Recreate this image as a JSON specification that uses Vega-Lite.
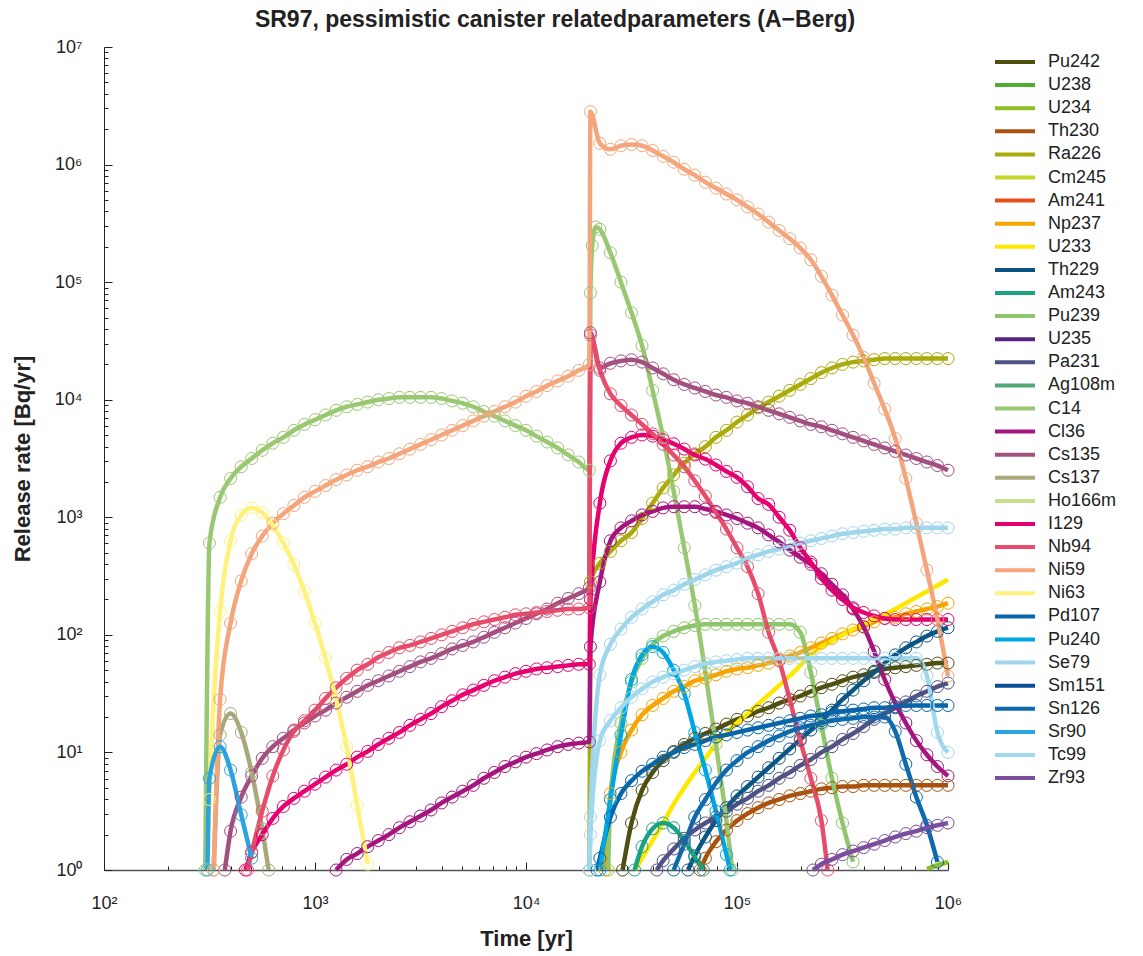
{
"$schema":"https://vega.github.io/schema/vega-lite/v6.json",
"width":844,"height":823,
"autosize":{"type":"none"},
"padding":{"left":104,"top":47,"right":195,"bottom":86},
"background":"white",
"config":{"font":"Liberation Sans","view":{"stroke":null},"axis":{"grid":false}},
"title":{"text":"SR97, pessimistic canister relatedparameters (A\u2212Berg)","fontSize":23,"fontWeight":"bold","color":"#222","anchor":"middle","dx":29,"offset":6,"font":"Liberation Sans"},
"data":{"values":[
{"n":"Pu242","t":28700,"r":1},{"n":"Pu242","t":31623,"r":2.51},{"n":"Pu242","t":35481,"r":4.79},{"n":"Pu242","t":39811,"r":6.76},{"n":"Pu242","t":44668,"r":8.51},{"n":"Pu242","t":50119,"r":10.2},{"n":"Pu242","t":56234,"r":11.7},{"n":"Pu242","t":63096,"r":13.2},{"n":"Pu242","t":70795,"r":14.5},{"n":"Pu242","t":79433,"r":15.8},{"n":"Pu242","t":89125,"r":17.4},{"n":"Pu242","t":100000,"r":19.1},{"n":"Pu242","t":112202,"r":20.4},{"n":"Pu242","t":125893,"r":22.4},{"n":"Pu242","t":141254,"r":24},{"n":"Pu242","t":158489,"r":26.3},{"n":"Pu242","t":177828,"r":28.2},{"n":"Pu242","t":199526,"r":30.2},{"n":"Pu242","t":223872,"r":33.1},{"n":"Pu242","t":251189,"r":35.5},{"n":"Pu242","t":281838,"r":38},{"n":"Pu242","t":316228,"r":40.7},{"n":"Pu242","t":354813,"r":43.7},{"n":"Pu242","t":398107,"r":45.7},{"n":"Pu242","t":446684,"r":49},{"n":"Pu242","t":501187,"r":51.3},{"n":"Pu242","t":562341,"r":52.5},{"n":"Pu242","t":630957,"r":53.7},{"n":"Pu242","t":707946,"r":55},{"n":"Pu242","t":794328,"r":56.2},{"n":"Pu242","t":891251,"r":57.5},{"n":"Pu242","t":1000000,"r":57.5},
{"n":"U234","t":794328,"r":1.02},{"n":"U234","t":891251,"r":1.1},{"n":"U234","t":1000000,"r":1.17},
{"n":"Th230","t":66900,"r":1},{"n":"Th230","t":70795,"r":1.26},{"n":"Th230","t":79433,"r":1.74},{"n":"Th230","t":89125,"r":2.19},{"n":"Th230","t":100000,"r":2.63},{"n":"Th230","t":112202,"r":3.02},{"n":"Th230","t":125893,"r":3.39},{"n":"Th230","t":141254,"r":3.72},{"n":"Th230","t":158489,"r":3.98},{"n":"Th230","t":177828,"r":4.27},{"n":"Th230","t":199526,"r":4.47},{"n":"Th230","t":223872,"r":4.68},{"n":"Th230","t":251189,"r":4.9},{"n":"Th230","t":281838,"r":5.01},{"n":"Th230","t":316228,"r":5.13},{"n":"Th230","t":354813,"r":5.13},{"n":"Th230","t":398107,"r":5.25},{"n":"Th230","t":446684,"r":5.25},{"n":"Th230","t":501187,"r":5.25},{"n":"Th230","t":562341,"r":5.25},{"n":"Th230","t":630957,"r":5.25},{"n":"Th230","t":707946,"r":5.25},{"n":"Th230","t":794328,"r":5.25},{"n":"Th230","t":891251,"r":5.25},{"n":"Th230","t":1000000,"r":5.25},
{"n":"Ra226","t":20000,"r":1},{"n":"Ra226","t":20200,"r":282},{"n":"Ra226","t":22387,"r":407},{"n":"Ra226","t":25119,"r":513},{"n":"Ra226","t":28184,"r":631},{"n":"Ra226","t":31623,"r":741},{"n":"Ra226","t":35481,"r":977},{"n":"Ra226","t":39811,"r":1318},{"n":"Ra226","t":44668,"r":1778},{"n":"Ra226","t":50119,"r":2291},{"n":"Ra226","t":56234,"r":2884},{"n":"Ra226","t":63096,"r":3467},{"n":"Ra226","t":70795,"r":3981},{"n":"Ra226","t":79433,"r":4786},{"n":"Ra226","t":89125,"r":5495},{"n":"Ra226","t":100000,"r":6457},{"n":"Ra226","t":112202,"r":7413},{"n":"Ra226","t":125893,"r":8511},{"n":"Ra226","t":141254,"r":9550},{"n":"Ra226","t":158489,"r":10720},{"n":"Ra226","t":177828,"r":12020},{"n":"Ra226","t":199526,"r":13490},{"n":"Ra226","t":223872,"r":15140},{"n":"Ra226","t":251189,"r":16980},{"n":"Ra226","t":281838,"r":18620},{"n":"Ra226","t":316228,"r":19950},{"n":"Ra226","t":354813,"r":20890},{"n":"Ra226","t":398107,"r":21380},{"n":"Ra226","t":446684,"r":21880},{"n":"Ra226","t":501187,"r":22390},{"n":"Ra226","t":562341,"r":22390},{"n":"Ra226","t":630957,"r":22390},{"n":"Ra226","t":707946,"r":22390},{"n":"Ra226","t":794328,"r":22390},{"n":"Ra226","t":891251,"r":22390},{"n":"Ra226","t":1000000,"r":22390},
{"n":"Np237","t":23700,"r":1},{"n":"Np237","t":25119,"r":4.47},{"n":"Np237","t":28184,"r":10},{"n":"Np237","t":31623,"r":15.5},{"n":"Np237","t":35481,"r":20.9},{"n":"Np237","t":39811,"r":25.1},{"n":"Np237","t":44668,"r":28.8},{"n":"Np237","t":50119,"r":33.1},{"n":"Np237","t":56234,"r":36.3},{"n":"Np237","t":63096,"r":40.7},{"n":"Np237","t":70795,"r":42.7},{"n":"Np237","t":79433,"r":45.7},{"n":"Np237","t":89125,"r":49},{"n":"Np237","t":100000,"r":51.3},{"n":"Np237","t":112202,"r":52.5},{"n":"Np237","t":125893,"r":55},{"n":"Np237","t":141254,"r":57.5},{"n":"Np237","t":158489,"r":61.7},{"n":"Np237","t":177828,"r":66.1},{"n":"Np237","t":199526,"r":70.8},{"n":"Np237","t":223872,"r":77.6},{"n":"Np237","t":251189,"r":85.1},{"n":"Np237","t":281838,"r":93.3},{"n":"Np237","t":316228,"r":102},{"n":"Np237","t":354813,"r":110},{"n":"Np237","t":398107,"r":117},{"n":"Np237","t":446684,"r":129},{"n":"Np237","t":501187,"r":138},{"n":"Np237","t":562341,"r":141},{"n":"Np237","t":630957,"r":151},{"n":"Np237","t":707946,"r":158},{"n":"Np237","t":794328,"r":166},{"n":"Np237","t":891251,"r":174},{"n":"Np237","t":1000000,"r":186},
{"n":"U233","t":32900,"r":1},{"n":"U233","t":35481,"r":1.26},{"n":"U233","t":39811,"r":1.78},{"n":"U233","t":44668,"r":2.51},{"n":"U233","t":50119,"r":3.63},{"n":"U233","t":56234,"r":5.01},{"n":"U233","t":63096,"r":6.76},{"n":"U233","t":70795,"r":8.91},{"n":"U233","t":79433,"r":11.7},{"n":"U233","t":89125,"r":14.5},{"n":"U233","t":100000,"r":17.8},{"n":"U233","t":112202,"r":21.4},{"n":"U233","t":125893,"r":25.7},{"n":"U233","t":141254,"r":30.9},{"n":"U233","t":158489,"r":37.2},{"n":"U233","t":177828,"r":44.7},{"n":"U233","t":199526,"r":55},{"n":"U233","t":223872,"r":67.6},{"n":"U233","t":251189,"r":79.4},{"n":"U233","t":281838,"r":89.1},{"n":"U233","t":316228,"r":100},{"n":"U233","t":354813,"r":112},{"n":"U233","t":398107,"r":123},{"n":"U233","t":446684,"r":135},{"n":"U233","t":501187,"r":148},{"n":"U233","t":562341,"r":166},{"n":"U233","t":630957,"r":186},{"n":"U233","t":707946,"r":209},{"n":"U233","t":794328,"r":234},{"n":"U233","t":891251,"r":263},{"n":"U233","t":1000000,"r":295},
{"n":"Th229","t":58600,"r":1},{"n":"Th229","t":63096,"r":1.32},{"n":"Th229","t":70795,"r":1.91},{"n":"Th229","t":79433,"r":2.63},{"n":"Th229","t":89125,"r":3.39},{"n":"Th229","t":100000,"r":4.27},{"n":"Th229","t":112202,"r":5.13},{"n":"Th229","t":125893,"r":6.17},{"n":"Th229","t":141254,"r":7.41},{"n":"Th229","t":158489,"r":8.91},{"n":"Th229","t":177828,"r":10.7},{"n":"Th229","t":199526,"r":12.9},{"n":"Th229","t":223872,"r":15.5},{"n":"Th229","t":251189,"r":18.6},{"n":"Th229","t":281838,"r":22.9},{"n":"Th229","t":316228,"r":28.2},{"n":"Th229","t":354813,"r":33.9},{"n":"Th229","t":398107,"r":40.7},{"n":"Th229","t":446684,"r":47.9},{"n":"Th229","t":501187,"r":57.5},{"n":"Th229","t":562341,"r":67.6},{"n":"Th229","t":630957,"r":77.6},{"n":"Th229","t":707946,"r":87.1},{"n":"Th229","t":794328,"r":97.7},{"n":"Th229","t":891251,"r":107},{"n":"Th229","t":1000000,"r":115},
{"n":"Am243","t":32700,"r":1},{"n":"Am243","t":35481,"r":1.58},{"n":"Am243","t":39811,"r":2.24},{"n":"Am243","t":44668,"r":2.51},{"n":"Am243","t":50119,"r":2.29},{"n":"Am243","t":56234,"r":1.78},{"n":"Am243","t":63096,"r":1.29},{"n":"Am243","t":69200,"r":1},
{"n":"Pu239","t":24500,"r":1},{"n":"Pu239","t":25119,"r":3.98},{"n":"Pu239","t":28184,"r":17.8},{"n":"Pu239","t":31623,"r":39.8},{"n":"Pu239","t":35481,"r":63.1},{"n":"Pu239","t":39811,"r":83.2},{"n":"Pu239","t":44668,"r":97.7},{"n":"Pu239","t":50119,"r":107},{"n":"Pu239","t":56234,"r":115},{"n":"Pu239","t":63096,"r":120},{"n":"Pu239","t":70795,"r":123},{"n":"Pu239","t":79433,"r":123},{"n":"Pu239","t":89125,"r":123},{"n":"Pu239","t":100000,"r":123},{"n":"Pu239","t":112202,"r":123},{"n":"Pu239","t":125893,"r":123},{"n":"Pu239","t":141254,"r":123},{"n":"Pu239","t":158489,"r":123},{"n":"Pu239","t":177828,"r":123},{"n":"Pu239","t":199526,"r":105},{"n":"Pu239","t":223872,"r":47.9},{"n":"Pu239","t":251189,"r":17},{"n":"Pu239","t":281838,"r":6.03},{"n":"Pu239","t":316228,"r":2.51},{"n":"Pu239","t":354813,"r":1.17},
{"n":"Pa231","t":41700,"r":1},{"n":"Pa231","t":44668,"r":1.2},{"n":"Pa231","t":50119,"r":1.51},{"n":"Pa231","t":56234,"r":1.86},{"n":"Pa231","t":63096,"r":2.19},{"n":"Pa231","t":70795,"r":2.51},{"n":"Pa231","t":79433,"r":2.82},{"n":"Pa231","t":89125,"r":3.16},{"n":"Pa231","t":100000,"r":3.63},{"n":"Pa231","t":112202,"r":4.07},{"n":"Pa231","t":125893,"r":4.68},{"n":"Pa231","t":141254,"r":5.25},{"n":"Pa231","t":158489,"r":6.03},{"n":"Pa231","t":177828,"r":6.76},{"n":"Pa231","t":199526,"r":7.76},{"n":"Pa231","t":223872,"r":8.71},{"n":"Pa231","t":251189,"r":10},{"n":"Pa231","t":281838,"r":11.2},{"n":"Pa231","t":316228,"r":12.9},{"n":"Pa231","t":354813,"r":14.5},{"n":"Pa231","t":398107,"r":16.6},{"n":"Pa231","t":446684,"r":19.1},{"n":"Pa231","t":501187,"r":21.4},{"n":"Pa231","t":562341,"r":24},{"n":"Pa231","t":630957,"r":26.9},{"n":"Pa231","t":707946,"r":30.2},{"n":"Pa231","t":794328,"r":33.1},{"n":"Pa231","t":891251,"r":36.3},{"n":"Pa231","t":1000000,"r":38.9},
{"n":"C14","t":302,"r":1},{"n":"C14","t":316,"r":603},{"n":"C14","t":355,"r":1479},{"n":"C14","t":398,"r":2138},{"n":"C14","t":447,"r":2692},{"n":"C14","t":501,"r":3162},{"n":"C14","t":562,"r":3715},{"n":"C14","t":631,"r":4266},{"n":"C14","t":708,"r":4786},{"n":"C14","t":794,"r":5495},{"n":"C14","t":891,"r":6166},{"n":"C14","t":1000,"r":6761},{"n":"C14","t":1122,"r":7413},{"n":"C14","t":1259,"r":8128},{"n":"C14","t":1413,"r":8710},{"n":"C14","t":1585,"r":9120},{"n":"C14","t":1778,"r":9550},{"n":"C14","t":1995,"r":10000},{"n":"C14","t":2239,"r":10230},{"n":"C14","t":2512,"r":10470},{"n":"C14","t":2818,"r":10470},{"n":"C14","t":3162,"r":10470},{"n":"C14","t":3548,"r":10470},{"n":"C14","t":3981,"r":10230},{"n":"C14","t":4467,"r":9772},{"n":"C14","t":5012,"r":9333},{"n":"C14","t":5623,"r":8710},{"n":"C14","t":6310,"r":7943},{"n":"C14","t":7079,"r":7244},{"n":"C14","t":7943,"r":6607},{"n":"C14","t":8913,"r":6026},{"n":"C14","t":10000,"r":5495},{"n":"C14","t":11220,"r":4898},{"n":"C14","t":12589,"r":4365},{"n":"C14","t":14125,"r":3890},{"n":"C14","t":15849,"r":3388},{"n":"C14","t":17783,"r":2951},{"n":"C14","t":19953,"r":2512},{"n":"C14","t":20200,"r":81280},{"n":"C14","t":20600,"r":204200},{"n":"C14","t":21400,"r":295100},{"n":"C14","t":22387,"r":281800},{"n":"C14","t":25119,"r":177800},{"n":"C14","t":28184,"r":100000},{"n":"C14","t":31623,"r":54950},{"n":"C14","t":35481,"r":28840},{"n":"C14","t":39811,"r":12020},{"n":"C14","t":44668,"r":4786},{"n":"C14","t":50119,"r":1660},{"n":"C14","t":56234,"r":550},{"n":"C14","t":63096,"r":178},{"n":"C14","t":70795,"r":47.9},{"n":"C14","t":79433,"r":11.7},{"n":"C14","t":89125,"r":2.63},{"n":"C14","t":95000,"r":1},
{"n":"Cl36","t":1259,"r":1},{"n":"Cl36","t":1413,"r":1.23},{"n":"Cl36","t":1585,"r":1.38},{"n":"Cl36","t":1778,"r":1.58},{"n":"Cl36","t":1995,"r":1.78},{"n":"Cl36","t":2239,"r":2},{"n":"Cl36","t":2512,"r":2.29},{"n":"Cl36","t":2818,"r":2.57},{"n":"Cl36","t":3162,"r":2.88},{"n":"Cl36","t":3548,"r":3.24},{"n":"Cl36","t":3981,"r":3.72},{"n":"Cl36","t":4467,"r":4.17},{"n":"Cl36","t":5012,"r":4.68},{"n":"Cl36","t":5623,"r":5.25},{"n":"Cl36","t":6310,"r":6.03},{"n":"Cl36","t":7079,"r":6.76},{"n":"Cl36","t":7943,"r":7.59},{"n":"Cl36","t":8913,"r":8.32},{"n":"Cl36","t":10000,"r":9.12},{"n":"Cl36","t":11220,"r":9.77},{"n":"Cl36","t":12589,"r":10.5},{"n":"Cl36","t":14125,"r":11.2},{"n":"Cl36","t":15849,"r":11.7},{"n":"Cl36","t":17783,"r":12},{"n":"Cl36","t":19953,"r":12.3},{"n":"Cl36","t":20200,"r":79.4},{"n":"Cl36","t":22387,"r":282},{"n":"Cl36","t":25119,"r":631},{"n":"Cl36","t":28184,"r":813},{"n":"Cl36","t":31623,"r":933},{"n":"Cl36","t":35481,"r":1047},{"n":"Cl36","t":39811,"r":1122},{"n":"Cl36","t":44668,"r":1202},{"n":"Cl36","t":50119,"r":1230},{"n":"Cl36","t":56234,"r":1230},{"n":"Cl36","t":63096,"r":1230},{"n":"Cl36","t":70795,"r":1175},{"n":"Cl36","t":79433,"r":1122},{"n":"Cl36","t":89125,"r":1047},{"n":"Cl36","t":100000,"r":977},{"n":"Cl36","t":112202,"r":891},{"n":"Cl36","t":125893,"r":813},{"n":"Cl36","t":141254,"r":708},{"n":"Cl36","t":158489,"r":617},{"n":"Cl36","t":177828,"r":525},{"n":"Cl36","t":199526,"r":457},{"n":"Cl36","t":223872,"r":398},{"n":"Cl36","t":251189,"r":331},{"n":"Cl36","t":281838,"r":269},{"n":"Cl36","t":316228,"r":219},{"n":"Cl36","t":354813,"r":166},{"n":"Cl36","t":398107,"r":117},{"n":"Cl36","t":446684,"r":72.4},{"n":"Cl36","t":501187,"r":41.7},{"n":"Cl36","t":562341,"r":26.3},{"n":"Cl36","t":630957,"r":17.8},{"n":"Cl36","t":707946,"r":12.6},{"n":"Cl36","t":794328,"r":9.55},{"n":"Cl36","t":891251,"r":7.59},{"n":"Cl36","t":1000000,"r":6.31},
{"n":"Cs135","t":374,"r":1},{"n":"Cs135","t":398,"r":2.14},{"n":"Cs135","t":447,"r":4.17},{"n":"Cs135","t":501,"r":6.31},{"n":"Cs135","t":562,"r":8.91},{"n":"Cs135","t":631,"r":11.2},{"n":"Cs135","t":708,"r":13.2},{"n":"Cs135","t":794,"r":15.5},{"n":"Cs135","t":891,"r":17.8},{"n":"Cs135","t":1000,"r":20.4},{"n":"Cs135","t":1122,"r":22.9},{"n":"Cs135","t":1259,"r":26.3},{"n":"Cs135","t":1413,"r":29.5},{"n":"Cs135","t":1585,"r":33.1},{"n":"Cs135","t":1778,"r":37.2},{"n":"Cs135","t":1995,"r":40.7},{"n":"Cs135","t":2239,"r":44.7},{"n":"Cs135","t":2512,"r":49},{"n":"Cs135","t":2818,"r":53.7},{"n":"Cs135","t":3162,"r":58.9},{"n":"Cs135","t":3548,"r":63.1},{"n":"Cs135","t":3981,"r":69.2},{"n":"Cs135","t":4467,"r":75.9},{"n":"Cs135","t":5012,"r":81.3},{"n":"Cs135","t":5623,"r":87.1},{"n":"Cs135","t":6310,"r":95.5},{"n":"Cs135","t":7079,"r":105},{"n":"Cs135","t":7943,"r":115},{"n":"Cs135","t":8913,"r":126},{"n":"Cs135","t":10000,"r":138},{"n":"Cs135","t":11220,"r":151},{"n":"Cs135","t":12589,"r":166},{"n":"Cs135","t":14125,"r":186},{"n":"Cs135","t":15849,"r":204},{"n":"Cs135","t":17783,"r":224},{"n":"Cs135","t":19953,"r":251},{"n":"Cs135","t":20200,"r":37150},{"n":"Cs135","t":22387,"r":18620},{"n":"Cs135","t":25119,"r":20420},{"n":"Cs135","t":28184,"r":21380},{"n":"Cs135","t":31623,"r":21880},{"n":"Cs135","t":35481,"r":20890},{"n":"Cs135","t":39811,"r":18620},{"n":"Cs135","t":44668,"r":16600},{"n":"Cs135","t":50119,"r":14790},{"n":"Cs135","t":56234,"r":13490},{"n":"Cs135","t":63096,"r":12590},{"n":"Cs135","t":70795,"r":11750},{"n":"Cs135","t":79433,"r":10960},{"n":"Cs135","t":89125,"r":10470},{"n":"Cs135","t":100000,"r":9772},{"n":"Cs135","t":112202,"r":9333},{"n":"Cs135","t":125893,"r":8710},{"n":"Cs135","t":141254,"r":8128},{"n":"Cs135","t":158489,"r":7586},{"n":"Cs135","t":177828,"r":7079},{"n":"Cs135","t":199526,"r":6607},{"n":"Cs135","t":223872,"r":6166},{"n":"Cs135","t":251189,"r":5888},{"n":"Cs135","t":281838,"r":5495},{"n":"Cs135","t":316228,"r":5129},{"n":"Cs135","t":354813,"r":4786},{"n":"Cs135","t":398107,"r":4467},{"n":"Cs135","t":446684,"r":4169},{"n":"Cs135","t":501187,"r":3890},{"n":"Cs135","t":562341,"r":3631},{"n":"Cs135","t":630957,"r":3388},{"n":"Cs135","t":707946,"r":3162},{"n":"Cs135","t":794328,"r":2951},{"n":"Cs135","t":891251,"r":2754},{"n":"Cs135","t":1000000,"r":2512},
{"n":"Cs137","t":331,"r":1},{"n":"Cs137","t":355,"r":14.1},{"n":"Cs137","t":398,"r":21.4},{"n":"Cs137","t":447,"r":14.8},{"n":"Cs137","t":501,"r":6.76},{"n":"Cs137","t":562,"r":2.24},{"n":"Cs137","t":603,"r":1},
{"n":"I129","t":468,"r":1},{"n":"I129","t":501,"r":1.41},{"n":"I129","t":562,"r":2},{"n":"I129","t":631,"r":2.75},{"n":"I129","t":708,"r":3.47},{"n":"I129","t":794,"r":4.07},{"n":"I129","t":891,"r":4.68},{"n":"I129","t":1000,"r":5.37},{"n":"I129","t":1122,"r":6.17},{"n":"I129","t":1259,"r":7.08},{"n":"I129","t":1413,"r":7.94},{"n":"I129","t":1585,"r":9.12},{"n":"I129","t":1778,"r":10.2},{"n":"I129","t":1995,"r":11.7},{"n":"I129","t":2239,"r":13.2},{"n":"I129","t":2512,"r":14.8},{"n":"I129","t":2818,"r":17},{"n":"I129","t":3162,"r":19.1},{"n":"I129","t":3548,"r":21.4},{"n":"I129","t":3981,"r":24.5},{"n":"I129","t":4467,"r":27.5},{"n":"I129","t":5012,"r":30.9},{"n":"I129","t":5623,"r":33.9},{"n":"I129","t":6310,"r":37.2},{"n":"I129","t":7079,"r":40.7},{"n":"I129","t":7943,"r":43.7},{"n":"I129","t":8913,"r":46.8},{"n":"I129","t":10000,"r":49},{"n":"I129","t":11220,"r":51.3},{"n":"I129","t":12589,"r":52.5},{"n":"I129","t":14125,"r":53.7},{"n":"I129","t":15849,"r":55},{"n":"I129","t":17783,"r":56.2},{"n":"I129","t":19953,"r":56.2},{"n":"I129","t":20200,"r":200},{"n":"I129","t":22387,"r":1318},{"n":"I129","t":25119,"r":3020},{"n":"I129","t":28184,"r":4266},{"n":"I129","t":31623,"r":4786},{"n":"I129","t":35481,"r":5012},{"n":"I129","t":39811,"r":4898},{"n":"I129","t":44668,"r":4571},{"n":"I129","t":50119,"r":4217},{"n":"I129","t":56234,"r":3802},{"n":"I129","t":63096,"r":3388},{"n":"I129","t":70795,"r":3126},{"n":"I129","t":79433,"r":2786},{"n":"I129","t":89125,"r":2455},{"n":"I129","t":100000,"r":2188},{"n":"I129","t":112202,"r":1820},{"n":"I129","t":125893,"r":1445},{"n":"I129","t":141254,"r":1288},{"n":"I129","t":158489,"r":1000},{"n":"I129","t":177828,"r":776},{"n":"I129","t":199526,"r":550},{"n":"I129","t":223872,"r":417},{"n":"I129","t":251189,"r":302},{"n":"I129","t":281838,"r":240},{"n":"I129","t":316228,"r":200},{"n":"I129","t":354813,"r":170},{"n":"I129","t":398107,"r":155},{"n":"I129","t":446684,"r":145},{"n":"I129","t":501187,"r":138},{"n":"I129","t":562341,"r":135},{"n":"I129","t":630957,"r":135},{"n":"I129","t":707946,"r":135},{"n":"I129","t":794328,"r":135},{"n":"I129","t":891251,"r":135},{"n":"I129","t":1000000,"r":135},
{"n":"Nb94","t":479,"r":1},{"n":"Nb94","t":501,"r":1.41},{"n":"Nb94","t":562,"r":3.16},{"n":"Nb94","t":631,"r":6.31},{"n":"Nb94","t":708,"r":10.5},{"n":"Nb94","t":794,"r":15.1},{"n":"Nb94","t":891,"r":18.6},{"n":"Nb94","t":1000,"r":22.9},{"n":"Nb94","t":1122,"r":28.8},{"n":"Nb94","t":1259,"r":35.5},{"n":"Nb94","t":1413,"r":42.7},{"n":"Nb94","t":1585,"r":50.1},{"n":"Nb94","t":1778,"r":56.2},{"n":"Nb94","t":1995,"r":64.6},{"n":"Nb94","t":2239,"r":70.8},{"n":"Nb94","t":2512,"r":77.6},{"n":"Nb94","t":2818,"r":81.3},{"n":"Nb94","t":3162,"r":87.1},{"n":"Nb94","t":3548,"r":93.3},{"n":"Nb94","t":3981,"r":100},{"n":"Nb94","t":4467,"r":107},{"n":"Nb94","t":5012,"r":115},{"n":"Nb94","t":5623,"r":123},{"n":"Nb94","t":6310,"r":129},{"n":"Nb94","t":7079,"r":135},{"n":"Nb94","t":7943,"r":141},{"n":"Nb94","t":8913,"r":148},{"n":"Nb94","t":10000,"r":151},{"n":"Nb94","t":11220,"r":155},{"n":"Nb94","t":12589,"r":158},{"n":"Nb94","t":14125,"r":162},{"n":"Nb94","t":15849,"r":166},{"n":"Nb94","t":17783,"r":166},{"n":"Nb94","t":19953,"r":170},{"n":"Nb94","t":20200,"r":35480},{"n":"Nb94","t":22387,"r":17780},{"n":"Nb94","t":25119,"r":11220},{"n":"Nb94","t":28184,"r":8913},{"n":"Nb94","t":31623,"r":7413},{"n":"Nb94","t":35481,"r":6166},{"n":"Nb94","t":39811,"r":5129},{"n":"Nb94","t":44668,"r":4169},{"n":"Nb94","t":50119,"r":3388},{"n":"Nb94","t":56234,"r":2692},{"n":"Nb94","t":63096,"r":2042},{"n":"Nb94","t":70795,"r":1514},{"n":"Nb94","t":79433,"r":1096},{"n":"Nb94","t":89125,"r":794},{"n":"Nb94","t":100000,"r":550},{"n":"Nb94","t":112202,"r":380},{"n":"Nb94","t":125893,"r":224},{"n":"Nb94","t":141254,"r":105},{"n":"Nb94","t":158489,"r":60.3},{"n":"Nb94","t":177828,"r":28.2},{"n":"Nb94","t":199526,"r":12.6},{"n":"Nb94","t":223872,"r":6.03},{"n":"Nb94","t":251189,"r":2.63},{"n":"Nb94","t":269000,"r":1},
{"n":"Ni59","t":331,"r":1},{"n":"Ni59","t":355,"r":28.2},{"n":"Ni59","t":398,"r":126},{"n":"Ni59","t":447,"r":288},{"n":"Ni59","t":501,"r":490},{"n":"Ni59","t":562,"r":692},{"n":"Ni59","t":631,"r":891},{"n":"Ni59","t":708,"r":1072},{"n":"Ni59","t":794,"r":1259},{"n":"Ni59","t":891,"r":1479},{"n":"Ni59","t":1000,"r":1660},{"n":"Ni59","t":1122,"r":1862},{"n":"Ni59","t":1259,"r":2089},{"n":"Ni59","t":1413,"r":2291},{"n":"Ni59","t":1585,"r":2512},{"n":"Ni59","t":1778,"r":2692},{"n":"Ni59","t":1995,"r":2951},{"n":"Ni59","t":2239,"r":3162},{"n":"Ni59","t":2512,"r":3467},{"n":"Ni59","t":2818,"r":3802},{"n":"Ni59","t":3162,"r":4169},{"n":"Ni59","t":3548,"r":4571},{"n":"Ni59","t":3981,"r":5012},{"n":"Ni59","t":4467,"r":5495},{"n":"Ni59","t":5012,"r":6026},{"n":"Ni59","t":5623,"r":6607},{"n":"Ni59","t":6310,"r":7244},{"n":"Ni59","t":7079,"r":7943},{"n":"Ni59","t":7943,"r":8710},{"n":"Ni59","t":8913,"r":9550},{"n":"Ni59","t":10000,"r":10720},{"n":"Ni59","t":11220,"r":11750},{"n":"Ni59","t":12589,"r":13180},{"n":"Ni59","t":14125,"r":14450},{"n":"Ni59","t":15849,"r":15850},{"n":"Ni59","t":17783,"r":17780},{"n":"Ni59","t":19953,"r":19950},{"n":"Ni59","t":20200,"r":2818000},{"n":"Ni59","t":22387,"r":1514000},{"n":"Ni59","t":25119,"r":1349000},{"n":"Ni59","t":28184,"r":1445000},{"n":"Ni59","t":31623,"r":1479000},{"n":"Ni59","t":35481,"r":1445000},{"n":"Ni59","t":39811,"r":1318000},{"n":"Ni59","t":44668,"r":1175000},{"n":"Ni59","t":50119,"r":1047000},{"n":"Ni59","t":56234,"r":912000},{"n":"Ni59","t":63096,"r":813000},{"n":"Ni59","t":70795,"r":708000},{"n":"Ni59","t":79433,"r":631000},{"n":"Ni59","t":89125,"r":562000},{"n":"Ni59","t":100000,"r":501000},{"n":"Ni59","t":112202,"r":437000},{"n":"Ni59","t":125893,"r":380000},{"n":"Ni59","t":141254,"r":324000},{"n":"Ni59","t":158489,"r":275000},{"n":"Ni59","t":177828,"r":234000},{"n":"Ni59","t":199526,"r":195000},{"n":"Ni59","t":223872,"r":155000},{"n":"Ni59","t":251189,"r":112000},{"n":"Ni59","t":281838,"r":77600},{"n":"Ni59","t":316228,"r":52500},{"n":"Ni59","t":354813,"r":35500},{"n":"Ni59","t":398107,"r":22900},{"n":"Ni59","t":446684,"r":13800},{"n":"Ni59","t":501187,"r":8320},{"n":"Ni59","t":562341,"r":4680},{"n":"Ni59","t":630957,"r":2140},{"n":"Ni59","t":707946,"r":891},{"n":"Ni59","t":794328,"r":355},{"n":"Ni59","t":891251,"r":135},{"n":"Ni59","t":1000000,"r":44.7},
{"n":"Ni63","t":309,"r":1},{"n":"Ni63","t":316,"r":3.98},{"n":"Ni63","t":355,"r":158},{"n":"Ni63","t":398,"r":631},{"n":"Ni63","t":447,"r":1047},{"n":"Ni63","t":501,"r":1202},{"n":"Ni63","t":562,"r":1096},{"n":"Ni63","t":631,"r":851},{"n":"Ni63","t":708,"r":603},{"n":"Ni63","t":794,"r":398},{"n":"Ni63","t":891,"r":234},{"n":"Ni63","t":1000,"r":126},{"n":"Ni63","t":1122,"r":63.1},{"n":"Ni63","t":1259,"r":28.2},{"n":"Ni63","t":1413,"r":11.2},{"n":"Ni63","t":1585,"r":3.55},{"n":"Ni63","t":1778,"r":1.12},
{"n":"Pd107","t":21700,"r":1},{"n":"Pd107","t":22387,"r":1.26},{"n":"Pd107","t":25119,"r":2.82},{"n":"Pd107","t":28184,"r":4.47},{"n":"Pd107","t":31623,"r":5.75},{"n":"Pd107","t":35481,"r":6.92},{"n":"Pd107","t":39811,"r":7.94},{"n":"Pd107","t":44668,"r":9.12},{"n":"Pd107","t":50119,"r":10},{"n":"Pd107","t":56234,"r":11},{"n":"Pd107","t":63096,"r":11.7},{"n":"Pd107","t":70795,"r":12.6},{"n":"Pd107","t":79433,"r":13.5},{"n":"Pd107","t":89125,"r":14.1},{"n":"Pd107","t":100000,"r":14.8},{"n":"Pd107","t":112202,"r":15.5},{"n":"Pd107","t":125893,"r":16.2},{"n":"Pd107","t":141254,"r":17},{"n":"Pd107","t":158489,"r":17.8},{"n":"Pd107","t":177828,"r":18.6},{"n":"Pd107","t":199526,"r":19.5},{"n":"Pd107","t":223872,"r":20.4},{"n":"Pd107","t":251189,"r":20.9},{"n":"Pd107","t":281838,"r":21.9},{"n":"Pd107","t":316228,"r":22.4},{"n":"Pd107","t":354813,"r":22.9},{"n":"Pd107","t":398107,"r":23.4},{"n":"Pd107","t":446684,"r":24},{"n":"Pd107","t":501187,"r":24},{"n":"Pd107","t":562341,"r":24.5},{"n":"Pd107","t":630957,"r":25.1},{"n":"Pd107","t":707946,"r":25.1},{"n":"Pd107","t":794328,"r":25.1},{"n":"Pd107","t":891251,"r":25.1},{"n":"Pd107","t":1000000,"r":25.1},
{"n":"Pu240","t":22400,"r":1},{"n":"Pu240","t":25119,"r":3.98},{"n":"Pu240","t":28184,"r":14.1},{"n":"Pu240","t":31623,"r":41.7},{"n":"Pu240","t":35481,"r":67.6},{"n":"Pu240","t":39811,"r":79.4},{"n":"Pu240","t":44668,"r":70.8},{"n":"Pu240","t":50119,"r":50.1},{"n":"Pu240","t":56234,"r":31.6},{"n":"Pu240","t":63096,"r":14.8},{"n":"Pu240","t":70795,"r":7.08},{"n":"Pu240","t":79433,"r":3.16},{"n":"Pu240","t":89125,"r":1.35},{"n":"Pu240","t":92700,"r":1},
{"n":"Se79","t":20000,"r":1},{"n":"Se79","t":20200,"r":2.82},{"n":"Se79","t":22387,"r":45.7},{"n":"Se79","t":25119,"r":83.2},{"n":"Se79","t":28184,"r":112},{"n":"Se79","t":31623,"r":141},{"n":"Se79","t":35481,"r":166},{"n":"Se79","t":39811,"r":191},{"n":"Se79","t":44668,"r":219},{"n":"Se79","t":50119,"r":240},{"n":"Se79","t":56234,"r":269},{"n":"Se79","t":63096,"r":295},{"n":"Se79","t":70795,"r":324},{"n":"Se79","t":79433,"r":355},{"n":"Se79","t":89125,"r":380},{"n":"Se79","t":100000,"r":407},{"n":"Se79","t":112202,"r":447},{"n":"Se79","t":125893,"r":479},{"n":"Se79","t":141254,"r":513},{"n":"Se79","t":158489,"r":537},{"n":"Se79","t":177828,"r":575},{"n":"Se79","t":199526,"r":603},{"n":"Se79","t":223872,"r":631},{"n":"Se79","t":251189,"r":661},{"n":"Se79","t":281838,"r":692},{"n":"Se79","t":316228,"r":724},{"n":"Se79","t":354813,"r":741},{"n":"Se79","t":398107,"r":759},{"n":"Se79","t":446684,"r":776},{"n":"Se79","t":501187,"r":794},{"n":"Se79","t":562341,"r":794},{"n":"Se79","t":630957,"r":813},{"n":"Se79","t":707946,"r":813},{"n":"Se79","t":794328,"r":813},{"n":"Se79","t":891251,"r":813},{"n":"Se79","t":1000000,"r":813},
{"n":"Sn126","t":50119,"r":1},{"n":"Sn126","t":56234,"r":1.66},{"n":"Sn126","t":63096,"r":2.82},{"n":"Sn126","t":70795,"r":3.98},{"n":"Sn126","t":79433,"r":5.5},{"n":"Sn126","t":89125,"r":7.08},{"n":"Sn126","t":100000,"r":8.51},{"n":"Sn126","t":112202,"r":10},{"n":"Sn126","t":125893,"r":11.2},{"n":"Sn126","t":141254,"r":12.6},{"n":"Sn126","t":158489,"r":13.8},{"n":"Sn126","t":177828,"r":15.1},{"n":"Sn126","t":199526,"r":16.2},{"n":"Sn126","t":223872,"r":17},{"n":"Sn126","t":251189,"r":17.8},{"n":"Sn126","t":281838,"r":18.6},{"n":"Sn126","t":316228,"r":19.1},{"n":"Sn126","t":354813,"r":19.5},{"n":"Sn126","t":398107,"r":20},{"n":"Sn126","t":446684,"r":20},{"n":"Sn126","t":501187,"r":20},{"n":"Sn126","t":562341,"r":15.1},{"n":"Sn126","t":630957,"r":7.94},{"n":"Sn126","t":707946,"r":4.17},{"n":"Sn126","t":794328,"r":2.4},{"n":"Sn126","t":891251,"r":1.17},
{"n":"Sr90","t":309,"r":1},{"n":"Sr90","t":316,"r":6.03},{"n":"Sr90","t":355,"r":11.2},{"n":"Sr90","t":398,"r":7.08},{"n":"Sr90","t":447,"r":2.95},{"n":"Sr90","t":501,"r":1.26},
{"n":"Tc99","t":20000,"r":1},{"n":"Tc99","t":20200,"r":2},{"n":"Tc99","t":22387,"r":12.6},{"n":"Tc99","t":25119,"r":18.6},{"n":"Tc99","t":28184,"r":24},{"n":"Tc99","t":31623,"r":29.5},{"n":"Tc99","t":35481,"r":34.7},{"n":"Tc99","t":39811,"r":39.8},{"n":"Tc99","t":44668,"r":43.7},{"n":"Tc99","t":50119,"r":46.8},{"n":"Tc99","t":56234,"r":50.1},{"n":"Tc99","t":63096,"r":53.7},{"n":"Tc99","t":70795,"r":56.9},{"n":"Tc99","t":79433,"r":58.9},{"n":"Tc99","t":89125,"r":60.3},{"n":"Tc99","t":100000,"r":61.7},{"n":"Tc99","t":112202,"r":63.1},{"n":"Tc99","t":125893,"r":63.1},{"n":"Tc99","t":141254,"r":63.1},{"n":"Tc99","t":158489,"r":63.1},{"n":"Tc99","t":177828,"r":63.1},{"n":"Tc99","t":199526,"r":63.1},{"n":"Tc99","t":223872,"r":63.1},{"n":"Tc99","t":251189,"r":63.1},{"n":"Tc99","t":281838,"r":63.1},{"n":"Tc99","t":316228,"r":63.1},{"n":"Tc99","t":354813,"r":63.1},{"n":"Tc99","t":398107,"r":63.1},{"n":"Tc99","t":446684,"r":63.1},{"n":"Tc99","t":501187,"r":63.1},{"n":"Tc99","t":562341,"r":63.1},{"n":"Tc99","t":630957,"r":63.1},{"n":"Tc99","t":707946,"r":63.1},{"n":"Tc99","t":794328,"r":44.7},{"n":"Tc99","t":891251,"r":14.8},{"n":"Tc99","t":1000000,"r":10},
{"n":"Zr93","t":229000,"r":1},{"n":"Zr93","t":251189,"r":1.12},{"n":"Zr93","t":281838,"r":1.23},{"n":"Zr93","t":316228,"r":1.35},{"n":"Zr93","t":354813,"r":1.45},{"n":"Zr93","t":398107,"r":1.55},{"n":"Zr93","t":446684,"r":1.66},{"n":"Zr93","t":501187,"r":1.78},{"n":"Zr93","t":562341,"r":1.91},{"n":"Zr93","t":630957,"r":2.04},{"n":"Zr93","t":707946,"r":2.14},{"n":"Zr93","t":794328,"r":2.29},{"n":"Zr93","t":891251,"r":2.4},{"n":"Zr93","t":1000000,"r":2.51}
]},
"encoding":{
"x":{"field":"t","type":"quantitative","scale":{"type":"log","domain":[100,1000000],"nice":false},
 "axis":{"title":"Time [yr]","values":[100,200,300,400,500,600,700,800,900,1000,2000,3000,4000,5000,6000,7000,8000,9000,10000,20000,30000,40000,50000,60000,70000,80000,90000,100000,200000,300000,400000,500000,600000,700000,800000,900000,1000000],
 "labelExpr":"abs(log(datum.value)/LN10 - round(log(datum.value)/LN10)) < 0.000001 ? '10' + ['\u2070','\u00b9','\u00b2','\u00b3','\u2074','\u2075','\u2076','\u2077'][round(log(datum.value)/LN10)] : ''",
 "labelFontSize":18,"labelColor":"#222","labelFlush":false,"labelOverlap":false,"labelPadding":32,
 "titleFontSize":22,"titleFontWeight":"bold","titleColor":"#222","titlePadding":12,
 "tickSize":{"condition":{"test":"abs(log(datum.value)/LN10 - round(log(datum.value)/LN10)) < 0.000001","value":-8},"value":-4},
 "tickColor":"#222","domainColor":"#555","domainWidth":1.5}},
"y":{"field":"r","type":"quantitative","scale":{"type":"log","domain":[1,10000000],"nice":false},
 "axis":{"title":"Release rate [Bq/yr]","values":[1,2,3,4,5,6,7,8,9,10,20,30,40,50,60,70,80,90,100,200,300,400,500,600,700,800,900,1000,2000,3000,4000,5000,6000,7000,8000,9000,10000,20000,30000,40000,50000,60000,70000,80000,90000,100000,200000,300000,400000,500000,600000,700000,800000,900000,1000000,2000000,3000000,4000000,5000000,6000000,7000000,8000000,9000000,10000000],
 "labelExpr":"abs(log(datum.value)/LN10 - round(log(datum.value)/LN10)) < 0.000001 ? '10' + ['\u2070','\u00b9','\u00b2','\u00b3','\u2074','\u2075','\u2076','\u2077'][round(log(datum.value)/LN10)] : ''",
 "labelFontSize":18,"labelColor":"#222","labelFlush":false,"labelOverlap":false,"labelPadding":30,
 "titleFontSize":22,"titleFontWeight":"bold","titleColor":"#222","titlePadding":20,
 "tickSize":{"condition":{"test":"abs(log(datum.value)/LN10 - round(log(datum.value)/LN10)) < 0.000001","value":-8},"value":-4},
 "tickColor":"#222","domainColor":"#222","domainWidth":1}},
"color":{"field":"n","type":"nominal",
 "scale":{"domain":["Pu242","U238","U234","Th230","Ra226","Cm245","Am241","Np237","U233","Th229","Am243","Pu239","U235","Pa231","Ag108m","C14","Cl36","Cs135","Cs137","Ho166m","I129","Nb94","Ni59","Ni63","Pd107","Pu240","Se79","Sm151","Sn126","Sr90","Tc99","Zr93"],
 "range":["#4f4f12","#52ae32","#8fbe24","#a9520e","#abab0b","#c5d62e","#e84e1b","#f6a400","#fee800","#0b5585","#1ba283","#8ec66c","#552583","#4f5282","#55a677","#9ac872","#a4157e","#a34f80","#a8a87c","#c6df89","#e7006f","#e84c6b","#f5a57b","#fef17c","#0765aa","#00a6e2","#9fd6ec","#0a4e97","#0f6aad","#2ba3de","#a0d8ee","#7b4d9c"]},
 "legend":{"title":null,"orient":"none","legendX":902,"legendY":6,"symbolType":"M-4,0H4","symbolSize":100,"symbolStrokeWidth":4,"symbolOpacity":1,"labelFontSize":18,"labelColor":"#222","labelOffset":24,"rowPadding":5.1,"padding":0,"symbolLimit":40}}
},
"layer":[
{"mark":{"type":"line","strokeWidth":4.5,"interpolate":"monotone"}},
{"transform":[{"filter":"datum.n !== 'U233' && datum.n !== 'U234'"}],
 "mark":{"type":"point","shape":"circle","filled":false,"size":145,"strokeWidth":1,"opacity":1},
 "encoding":{"color":{"field":"n","type":"nominal","legend":null}}}
]
}
